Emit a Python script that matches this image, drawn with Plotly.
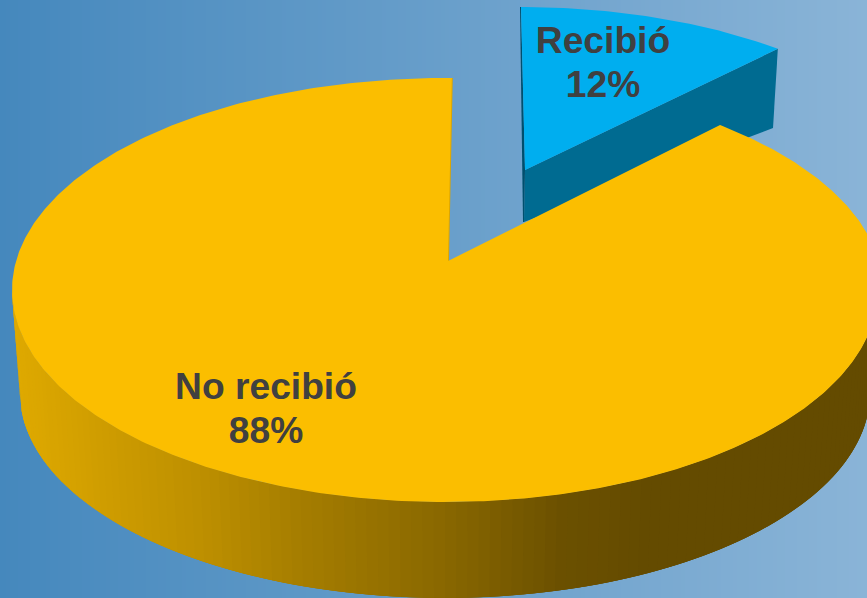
import numpy as np
import plotly.graph_objects as go

# Data
labels = ["Recibió", "No recibió"]
values = [12, 88]

# Colours
blue_top, blue_side, blue_edge = "#00AEEF", "#006B91", "#004F6E"
gold_top, gold_wall = "#FBBE00", "#DCA600"
text_color = "#404040"
bg_left, bg_right = "#4588BD", "#8AB4D7"
side_x = [0, 100, 200, 300, 450, 560, 650, 867]
side_rgb = [(226, 172, 0), (208, 158, 0), (190, 144, 0), (166, 126, 0),
            (136, 103, 0), (108, 81, 0), (100, 75, 0), (100, 75, 0)]

W, H = 867, 598

# Projected geometry of the tilted, exploded pie (pixel space of the axes)
MAIN_TOP = dict(cx=445, cy=290, a=433, b=212)
MAIN_TOP_UR = dict(cx=445, cy=290, a=438, b=212)  # far-right quadrant bulges in perspective
MAIN_BOT = dict(cx=445, cy=393, a=425, b=205)
BLUE_TOP = dict(cx=521, cy=207, a=420, b=200)
MAIN_APEX = (448, 261)
BLUE_APEX = (525, 170)
BLUE_APEX_BOT = (524, 222)
BLUE_RIGHT_BOT = (773, 128)
FORESHORTEN_MAIN = 4.3   # degrees lost to perspective on the main slice start
FORESHORTEN_BLUE = 5.5   # degrees lost on the detached slice


def ell(e, deg):
    t = np.radians(deg)
    return e["cx"] + e["a"] * np.sin(t), e["cy"] - e["b"] * np.cos(t)


share = 360 * values[0] / sum(values)
main_start = share - FORESHORTEN_MAIN
main_end = 360.9
blue_end = share - FORESHORTEN_BLUE

fig = go.Figure()


def poly(xs, ys, color, line_w=0):
    fig.add_trace(go.Scatter(
        x=list(xs), y=list(ys), mode="lines", fill="toself", fillcolor=color,
        line=dict(color=color, width=line_w), hoverinfo="skip", showlegend=False))


# Background gradient
bg_x = np.linspace(0, W, 218)
fig.add_trace(go.Heatmap(
    x=bg_x, y=[0, H], z=[bg_x, bg_x], showscale=False, hoverinfo="skip",
    colorscale=[[0, bg_left], [1, bg_right]]))

# Detached slice: side wall, left edge, top
bx_end, by_end = ell(BLUE_TOP, blue_end)
poly([BLUE_APEX[0], bx_end, BLUE_RIGHT_BOT[0], BLUE_APEX_BOT[0]],
     [BLUE_APEX[1], by_end, BLUE_RIGHT_BOT[1], BLUE_APEX_BOT[1]], blue_side)
bx0, by0 = ell(BLUE_TOP, 0)
poly([bx0 - 1, bx0, BLUE_APEX[0], BLUE_APEX_BOT[0], BLUE_APEX_BOT[0] - 1],
     [by0, by0, BLUE_APEX[1], BLUE_APEX_BOT[1], BLUE_APEX_BOT[1]], blue_edge)
ts = np.linspace(0, blue_end, 60)
ax, ay = ell(BLUE_TOP, ts)
poly([BLUE_APEX[0], *ax], [BLUE_APEX[1], *ay], blue_top)

# Main slice: shaded rim made of overlapping bands, painted right to left
edges = np.arange(90, 270, 1.5)
for t0 in edges:
    t1 = min(t0 + 1.5, 270)
    t_over = min(t0 + 4.5, 270)
    ts_band = np.linspace(t0, t_over, 5)
    xa, ya = ell(MAIN_TOP, ts_band)
    xb, yb = ell(MAIN_BOT, ts_band[::-1])
    xm = (ell(MAIN_TOP, t0)[0] + ell(MAIN_TOP, t1)[0] + ell(MAIN_BOT, t0)[0] + ell(MAIN_BOT, t1)[0]) / 4
    rgb = [int(np.interp(xm, side_x, [c[i] for c in side_rgb])) for i in range(3)]
    poly([*xa, *xb], [*ya, *yb], f"rgb({rgb[0]},{rgb[1]},{rgb[2]})")

# Main slice: thin inner wall seen at the gap
tx, ty = ell(MAIN_TOP, main_end)
poly([tx - 1, tx + 1, MAIN_APEX[0] + 1, MAIN_APEX[0] - 1],
     [ty, ty, MAIN_APEX[1], MAIN_APEX[1]], gold_wall)

# Main slice: top
ts_ur = np.linspace(main_start, 90, 120)
ts = np.linspace(90, main_end, 400)
ax1, ay1 = ell(MAIN_TOP_UR, ts_ur)
ax2, ay2 = ell(MAIN_TOP, ts)
poly([MAIN_APEX[0], *ax1, *ax2], [MAIN_APEX[1], *ay1, *ay2], gold_top)

# Labels
label_xy = {"Recibió": (603, 43.5, 87.5), "No recibió": (266, 389.5, 433.5)}
for name, val in zip(labels, values):
    x, y1, y2 = label_xy[name]
    fig.add_trace(go.Scatter(
        x=[x, x], y=[y1, y2], mode="text", text=[name, f"{val}%"],
        textposition="middle center", hoverinfo="skip", showlegend=False,
        textfont=dict(family="Liberation Sans", size=37.2, color=text_color, weight=700)))

fig.update_layout(
    width=W, height=H, autosize=False, margin=dict(l=0, r=0, t=0, b=0),
    paper_bgcolor=bg_left, plot_bgcolor=bg_left, showlegend=False,
    xaxis=dict(range=[0, W], visible=False, fixedrange=True),
    yaxis=dict(range=[H, 0], visible=False, fixedrange=True))

fig.write_html("out.html", config={"displayModeBar": False},
               post_script="document.body.style.margin='0';document.body.style.overflow='hidden';")
